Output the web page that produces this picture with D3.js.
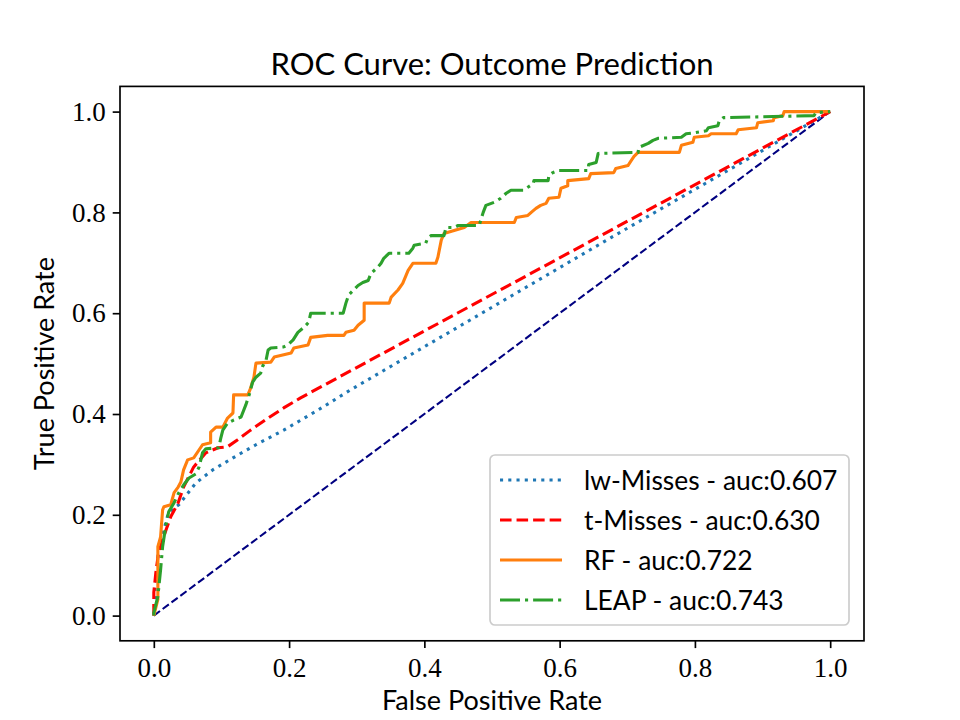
<!DOCTYPE html>
<html lang="en">
<head>
<meta charset="UTF-8">
<title>ROC Curve: Outcome Prediction</title>
<script src="https://cdn.jsdelivr.net/npm/d3@7/dist/d3.min.js"></script>
<style>
  body { margin: 0; background: #fff; }
  .tick text { font-family: "Liberation Serif", "DejaVu Serif", serif; font-size: 27px; fill: #000; }
  .lbl { font-family: Lato, "Open Sans", sans-serif; fill: #000; }
</style>
</head>
<body>
<svg id="chart" width="960" height="720"></svg>
<script>
// ROC points (false positive rate / true positive rate)
var lwFpr = [0, 0.007, 0.022, 0.037, 0.062, 0.087, 0.117, 0.151, 0.192, 0.243, 0.291, 0.439, 0.676, 1];
var lwTpr = [0, 0.131, 0.206, 0.220, 0.263, 0.289, 0.313, 0.339, 0.368, 0.408, 0.448, 0.564, 0.750, 1];

var tFpr = [0, 0, 0.003, 0.007, 0.018, 0.025, 0.036, 0.044, 0.059, 0.077, 0.095, 0.109, 0.124, 0.143, 0.169, 0.192, 0.217, 1];
var tTpr = [0, 0.046, 0.085, 0.125, 0.170, 0.196, 0.224, 0.255, 0.295, 0.323, 0.333, 0.335, 0.349, 0.368, 0.392, 0.412, 0.432, 1];

var rfFpr = [0, 0.006, 0.006, 0.010, 0.013, 0.015, 0.025, 0.030, 0.036, 0.040, 0.044, 0.050, 0.059, 0.072, 0.084, 0.084,
  0.092, 0.102, 0.109, 0.117, 0.118, 0.139, 0.143, 0.148, 0.151, 0.173, 0.178, 0.203, 0.207, 0.228, 0.232, 0.257,
  0.281, 0.284, 0.296, 0.302, 0.311, 0.311, 0.348, 0.351, 0.361, 0.368, 0.376, 0.383, 0.417, 0.420, 0.425, 0.429,
  0.444, 0.459, 0.469, 0.533, 0.536, 0.553, 0.558, 0.565, 0.572, 0.580, 0.584, 0.599, 0.602, 0.612, 0.612, 0.643,
  0.646, 0.680, 0.683, 0.701, 0.706, 0.710, 0.716, 0.777, 0.780, 0.797, 0.799, 0.820, 0.824, 0.861, 0.864, 0.891,
  0.893, 0.916, 0.917, 0.930, 0.932, 1];
var rfTpr = [0, 0.032, 0.137, 0.156, 0.210, 0.216, 0.220, 0.244, 0.255, 0.265, 0.289, 0.309, 0.313, 0.339, 0.343, 0.364,
  0.374, 0.374, 0.392, 0.402, 0.438, 0.438, 0.451, 0.473, 0.501, 0.503, 0.513, 0.521, 0.531, 0.537, 0.552, 0.556,
  0.556, 0.562, 0.566, 0.576, 0.586, 0.620, 0.620, 0.632, 0.646, 0.659, 0.685, 0.699, 0.699, 0.711, 0.745, 0.758,
  0.764, 0.770, 0.780, 0.780, 0.790, 0.794, 0.800, 0.808, 0.814, 0.818, 0.828, 0.830, 0.848, 0.853, 0.863, 0.867,
  0.877, 0.879, 0.887, 0.893, 0.903, 0.911, 0.919, 0.919, 0.933, 0.939, 0.949, 0.952, 0.956, 0.956, 0.964, 0.968,
  0.978, 0.982, 0.988, 0.992, 1, 1];

var leapFpr = [0, 0, 0.006, 0.010, 0.013, 0.018, 0.022, 0.030, 0.037, 0.044, 0.052, 0.062, 0.067, 0.072, 0.077, 0.096,
  0.099, 0.102, 0.109, 0.118, 0.129, 0.136, 0.141, 0.146, 0.151, 0.158, 0.161, 0.166, 0.169, 0.173, 0.192, 0.198,
  0.206, 0.213, 0.222, 0.229, 0.232, 0.280, 0.284, 0.288, 0.302, 0.309, 0.317, 0.321, 0.331, 0.336, 0.340, 0.348,
  0.377, 0.383, 0.385, 0.402, 0.405, 0.410, 0.429, 0.432, 0.444, 0.450, 0.481, 0.487, 0.491, 0.503, 0.513, 0.521,
  0.528, 0.546, 0.553, 0.561, 0.562, 0.583, 0.584, 0.590, 0.598, 0.642, 0.643, 0.654, 0.657, 0.716, 0.717, 0.731,
  0.738, 0.746, 0.780, 0.787, 0.799, 0.817, 0.820, 0.834, 0.836, 0.842, 0.976, 0.979, 1];
var leapTpr = [0, 0.006, 0.038, 0.091, 0.137, 0.180, 0.206, 0.224, 0.244, 0.259, 0.273, 0.281, 0.295, 0.323, 0.331, 0.333,
  0.352, 0.368, 0.382, 0.388, 0.394, 0.418, 0.438, 0.463, 0.473, 0.481, 0.495, 0.507, 0.527, 0.531, 0.533, 0.537,
  0.547, 0.562, 0.572, 0.582, 0.600, 0.600, 0.620, 0.636, 0.655, 0.661, 0.665, 0.679, 0.691, 0.699, 0.709, 0.719,
  0.719, 0.729, 0.735, 0.739, 0.749, 0.754, 0.754, 0.770, 0.770, 0.774, 0.774, 0.800, 0.814, 0.820, 0.828, 0.838,
  0.844, 0.844, 0.850, 0.857, 0.863, 0.863, 0.873, 0.879, 0.883, 0.883, 0.895, 0.899, 0.917, 0.919, 0.929, 0.937,
  0.943, 0.947, 0.949, 0.956, 0.958, 0.962, 0.968, 0.972, 0.982, 0.988, 0.992, 0.998, 1];

var chanceFpr = [0, 1];
var chanceTpr = [0, 1];

var labels = ["lw-Misses - auc:0.607", "t-Misses - auc:0.630", "RF - auc:0.722", "LEAP - auc:0.743"];
var tickVals = [0, 0.2, 0.4, 0.6, 0.8, 1.0];

// matplotlib-like axes box
var axL = 120, axR = 864, axT = 86.4, axB = 640.8;
var svg = d3.select("#chart");

var x = d3.scaleLinear().domain([-0.05, 1.05]).range([axL, axR]);
var y = d3.scaleLinear().domain([-0.05, 1.05]).range([axB, axT]);

svg.append("defs").append("clipPath").attr("id", "clip")
  .append("rect").attr("x", axL).attr("y", axT).attr("width", axR - axL).attr("height", axB - axT);

function pairs(xs, ys) { return xs.map(function(v, i) { return [v, ys[i]]; }); }
var line = d3.line().x(function(d) { return x(d[0]); }).y(function(d) { return y(d[1]); });

var series = [
  { pts: pairs(lwFpr, lwTpr), color: "#1f77b4", dash: "3.1,5.15", w: 3.1, label: labels[0] },
  { pts: pairs(tFpr, tTpr), color: "#ff0000", dash: "11.55,5", w: 3.1, label: labels[1] },
  { pts: pairs(rfFpr, rfTpr), color: "#ff7f0e", dash: null, w: 3.1, label: labels[2] },
  { pts: pairs(leapFpr, leapTpr), color: "#2ca02c", dash: "20,5,3.1,5", w: 3.1, label: labels[3] }
];

var plot = svg.append("g").attr("clip-path", "url(#clip)");

// chance diagonal
plot.append("path")
  .attr("d", line(pairs(chanceFpr, chanceTpr)))
  .attr("fill", "none").attr("stroke", "#000080")
  .attr("stroke-width", 2.08).attr("stroke-dasharray", "7.7,3.33");

series.forEach(function(s) {
  plot.append("path")
    .attr("d", line(s.pts))
    .attr("fill", "none")
    .attr("stroke", s.color)
    .attr("stroke-width", s.w)
    .attr("stroke-dasharray", s.dash)
    .attr("stroke-linejoin", "round");
});

// axes
var xAxis = d3.axisBottom(x).tickValues(tickVals).tickFormat(d3.format(".1f")).tickSizeOuter(0).tickSize(7.3).tickPadding(7);
var yAxis = d3.axisLeft(y).tickValues(tickVals).tickFormat(d3.format(".1f")).tickSizeOuter(0).tickSize(7.3).tickPadding(7);

var gx = svg.append("g").attr("transform", "translate(0," + axB + ")").call(xAxis);
var gy = svg.append("g").attr("transform", "translate(" + axL + ",0)").call(yAxis);
[gx, gy].forEach(function(g) {
  g.select(".domain").remove();
  g.selectAll(".tick line").attr("stroke", "#000").attr("stroke-width", 1.67);
});
gx.selectAll(".tick text").attr("dy", "0.8em");

// spines
svg.append("rect").attr("x", axL).attr("y", axT).attr("width", axR - axL).attr("height", axB - axT)
  .attr("fill", "none").attr("stroke", "#000").attr("stroke-width", 1.67);

// labels
svg.append("text").attr("class", "lbl").attr("x", (axL + axR) / 2).attr("y", 75)
  .attr("text-anchor", "middle").attr("font-size", 31).text("ROC Curve: Outcome Prediction");
svg.append("text").attr("class", "lbl").attr("x", (axL + axR) / 2).attr("y", 710)
  .attr("text-anchor", "middle").attr("font-size", 27).text("False Positive Rate");
svg.append("text").attr("class", "lbl")
  .attr("transform", "translate(54," + (axT + axB) / 2 + ") rotate(-90)")
  .attr("text-anchor", "middle").attr("font-size", 27).text("True Positive Rate");

// legend
var lg = svg.append("g");
lg.append("rect").attr("x", 490).attr("y", 455).attr("width", 359).attr("height", 170).attr("rx", 5)
  .attr("fill", "#fff").attr("fill-opacity", 0.8).attr("stroke", "#cccccc").attr("stroke-width", 1.67);
series.forEach(function(s, i) {
  var yy = 480 + i * 40;
  lg.append("line").attr("x1", 500).attr("x2", 562).attr("y1", yy).attr("y2", yy)
    .attr("stroke", s.color).attr("stroke-width", s.w).attr("stroke-dasharray", s.dash);
  lg.append("text").attr("class", "lbl").attr("x", 584).attr("y", yy).attr("dy", "0.36em")
    .attr("font-size", 26.4).text(s.label);
});
</script>
</body>
</html>
